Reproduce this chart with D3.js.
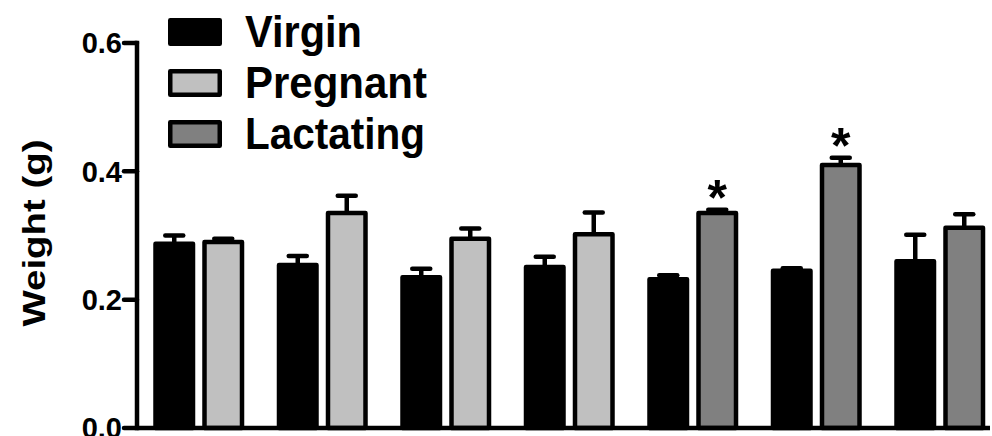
<!DOCTYPE html>
<html>
<head>
<meta charset="utf-8">
<script src="https://cdn.jsdelivr.net/npm/d3@7"></script>
<style>
  html, body { margin: 0; padding: 0; background: #fff; }
  svg { display: block; font-family: "Liberation Sans", Arial, Helvetica, sans-serif; }
</style>
</head>
<body>
<svg id="chart" width="992" height="436"></svg>
<script>
// Tissue groups (unlabelled on the x axis)
const groups = ["1", "2", "3", "4", "5", "6", "7"];

// Virgin control weights (g) and SEM
const virgin    = [0.287, 0.254, 0.235, 0.251, 0.232, 0.245, 0.260];
const virginErr = [0.013, 0.014, 0.013, 0.016, 0.006, 0.004, 0.041];

// Comparison group in each pair: pregnant or lactating
const compareType = ["Pregnant", "Pregnant", "Pregnant", "Pregnant", "Lactating", "Lactating", "Lactating"];
const compare     = [0.290, 0.335, 0.295, 0.302, 0.335, 0.410, 0.312];
const compareErr  = [0.005, 0.027, 0.016, 0.034, 0.005, 0.011, 0.021];
const significant = [false, false, false, false, true, true, false];

// Y axis ticks
const yTicks = [0.0, 0.2, 0.4, 0.6];
const yTickLabels = ["0.0", "0.2", "0.4", "0.6"];

const legendItems = ["Virgin", "Pregnant", "Lactating"];
const fills = { Virgin: "#000000", Pregnant: "#c0c0c0", Lactating: "#808080" };

const SW = 4.5;
const svg = d3.select("#chart");

const y = d3.scaleLinear().domain([0, 0.6]).range([428, 43]);
const x0 = d3.scaleBand().domain(groups).range([137, 1001.5])
  .paddingInner(32.5 / 123.5).paddingOuter(16.25 / 123.5);
const x1 = d3.scaleBand().domain(["a", "b"]).range([0, x0.bandwidth()])
  .paddingInner(7 / 49).paddingOuter(0);

// bar records
const bars = [];
groups.forEach((g, i) => {
  bars.push({ g, slot: "a", type: "Virgin", v: virgin[i], e: virginErr[i], sig: false });
  bars.push({ g, slot: "b", type: compareType[i], v: compare[i], e: compareErr[i], sig: significant[i] });
});

const barG = svg.append("g");
bars.forEach(b => {
  const left = x0(b.g) + x1(b.slot);
  const cx = left + x1.bandwidth() / 2;
  const top = y(b.v);
  const capY = y(b.v + b.e);
  // error bar (upper only)
  barG.append("line")
    .attr("x1", cx).attr("x2", cx).attr("y1", top).attr("y2", capY)
    .attr("stroke", "#000").attr("stroke-width", SW);
  barG.append("line")
    .attr("x1", cx - 9).attr("x2", cx + 9).attr("y1", capY).attr("y2", capY)
    .attr("stroke", "#000").attr("stroke-width", SW).attr("stroke-linecap", "round");
  barG.append("rect")
    .attr("x", left + SW / 2).attr("width", x1.bandwidth() - SW)
    .attr("y", top).attr("height", y(0) - top)
    .attr("fill", fills[b.type]).attr("stroke", "#000")
    .attr("stroke-width", SW).attr("stroke-linejoin", "round");
  if (b.sig) {
    barG.append("text")
      .attr("x", cx).attr("y", capY + 5)
      .attr("text-anchor", "middle")
      .attr("font-size", 50).attr("font-weight", "bold")
      .attr("fill", "#000")
      .text("*");
  }
});

// Axes
const axisG = svg.append("g");
axisG.append("line")
  .attr("x1", 137).attr("x2", 137).attr("y1", y(0.6) - SW / 2).attr("y2", y(0) + SW / 2)
  .attr("stroke", "#000").attr("stroke-width", SW);
axisG.append("line")
  .attr("x1", 137).attr("x2", 990).attr("y1", y(0)).attr("y2", y(0))
  .attr("stroke", "#000").attr("stroke-width", SW);
yTicks.forEach((t, i) => {
  axisG.append("line")
    .attr("x1", 124).attr("x2", 137).attr("y1", y(t)).attr("y2", y(t))
    .attr("stroke", "#000").attr("stroke-width", SW).attr("stroke-linecap", "round");
  axisG.append("text")
    .attr("x", 122).attr("y", y(t)).attr("dy", "0.36em")
    .attr("text-anchor", "end")
    .attr("font-size", 29).attr("font-weight", "bold")
    .text(yTickLabels[i]);
});

// Y axis title
svg.append("text")
  .attr("transform", "translate(45,233) rotate(-90)")
  .attr("text-anchor", "middle")
  .attr("font-size", 31).attr("font-weight", "bold")
  .attr("textLength", 187).attr("lengthAdjust", "spacingAndGlyphs")
  .text("Weight (g)");

// Legend
const legendWidths = { Virgin: 117, Pregnant: 182, Lactating: 180 };
const legend = svg.append("g");
legendItems.forEach((name, i) => {
  const cy = 32 + i * 51;
  legend.append("rect")
    .attr("x", 168 + SW / 2).attr("y", cy - 14 + SW / 2)
    .attr("width", 54 - SW).attr("height", 28 - SW)
    .attr("fill", fills[name]).attr("stroke", "#000")
    .attr("stroke-width", SW).attr("stroke-linejoin", "round");
  legend.append("text")
    .attr("x", 245).attr("y", cy + 15)
    .attr("font-size", 44).attr("font-weight", "bold")
    .attr("textLength", legendWidths[name]).attr("lengthAdjust", "spacingAndGlyphs")
    .text(name);
});
</script>
</body>
</html>
